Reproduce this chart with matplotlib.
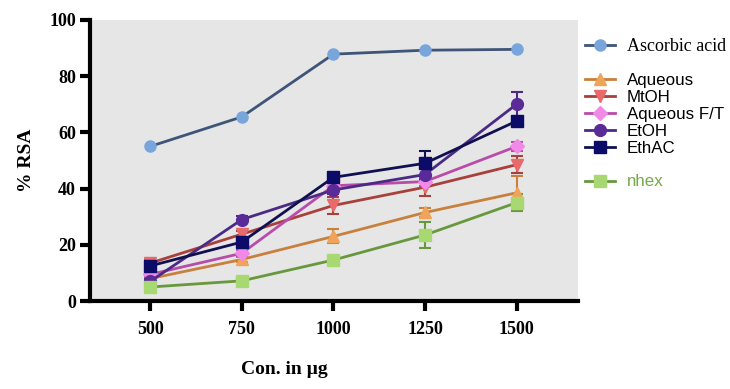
import numpy as np
import matplotlib.pyplot as plt
from matplotlib.lines import Line2D

conc = [500, 750, 1000, 1250, 1500]

ascorbic = [55.0, 65.5, 87.8, 89.2, 89.5]
aqueous = [8.0, 14.8, 23.0, 31.5, 38.5]
mtoh = [13.5, 23.8, 34.0, 40.5, 48.5]
aqueous_ft = [9.5, 17.0, 41.0, 42.5, 55.0]
etoh = [7.0, 29.0, 39.5, 45.0, 70.0]
ethac = [12.5, 21.0, 44.0, 49.0, 64.0]
nhex = [5.0, 7.2, 14.6, 23.5, 35.0]

aqueous_err = [0.8, 1.0, 2.5, 1.5, 6.0]
mtoh_err = [1.0, 1.2, 3.0, 3.0, 3.0]
aqueous_ft_err = [0.8, 1.0, 1.0, 1.5, 1.5]
etoh_err = [0.8, 1.2, 1.5, 2.0, 4.5]
ethac_err = [0.8, 1.5, 1.0, 4.5, 1.5]
nhex_err = [0.8, 0.8, 0.8, 4.5, 3.0]

# name, values, errors, marker, marker colour, line colour
series = [
    ("Aqueous", aqueous, aqueous_err, "^", "#f0a45a", "#c8803c"),
    ("MtOH", mtoh, mtoh_err, "v", "#e86a6a", "#a8403c"),
    ("Aqueous F/T", aqueous_ft, aqueous_ft_err, "D", "#f08ae6", "#b84ca8"),
    ("EtOH", etoh, etoh_err, "o", "#5a2a98", "#4a2a84"),
    ("EthAC", ethac, ethac_err, "s", "#0c0c68", "#101050"),
    ("nhex", nhex, nhex_err, "s", "#a8d872", "#68983e"),
]

fig = plt.figure(figsize=(7.3, 3.89), dpi=100)
ax = fig.add_axes([0.123, 0.226, 0.669, 0.723])
ax.set_facecolor("#e6e6e6")

ax.plot(conc, ascorbic, marker="o", color="#3e5478", mfc="#78a6dc", mec="#78a6dc",
        ms=8, lw=2, zorder=3)
for name, vals, err, mk, mc, lc in series:
    ms = 7 if mk == "D" else 8.5
    ax.errorbar(conc, vals, yerr=err, marker=mk, color=lc, mfc=mc, mec=mc, ms=ms,
                lw=2, ecolor=lc, elinewidth=1.5, capsize=4, capthick=1.5, zorder=3)

ax.set_xlim(335, 1668)
ax.set_ylim(0, 100)
ax.set_xticks(conc)
ax.set_yticks([0, 20, 40, 60, 80, 100])
for s in ["top", "right"]:
    ax.spines[s].set_visible(False)
for s in ["left", "bottom"]:
    ax.spines[s].set_linewidth(3)
ax.tick_params(direction="out", length=7, width=3, pad=3)
for lab in ax.get_xticklabels() + ax.get_yticklabels():
    lab.set_fontfamily("Liberation Serif")
    lab.set_fontweight("bold")
    lab.set_fontsize(13)
ax.tick_params(axis="x", pad=7)

ax.set_ylabel("% RSA", fontfamily="Liberation Serif", fontweight="bold", fontsize=14, labelpad=10)
fig.text(0.39, 0.05, "Con. in µg", ha="center", va="center",
         fontfamily="Liberation Serif", fontweight="bold", fontsize=14)

# legend with blank rows between groups
handles = [Line2D([], [], color="#3e5478", marker="o", mfc="#78a6dc", mec="#78a6dc", ms=8, lw=2),
           Line2D([], [], color="none")]
labels = ["Ascorbic acid", ""]
for name, vals, err, mk, mc, lc in series:
    if name == "nhex":
        handles.append(Line2D([], [], color="none"))
        labels.append("")
    handles.append(Line2D([], [], color=lc, marker=mk, mfc=mc, mec=mc,
                          ms=7 if mk == "D" else 8.5, lw=2))
    labels.append(name)

leg = ax.legend(handles, labels, loc="upper left", bbox_to_anchor=(1.015, 0.937),
                frameon=False, borderpad=0, borderaxespad=0, handlelength=1.75,
                handletextpad=0.7, labelspacing=0.11,
                prop={"family": "Liberation Sans", "size": 12.2})
for t in leg.get_texts():
    if t.get_text() == "Ascorbic acid":
        t.set_fontfamily("Liberation Serif")
        t.set_fontsize(13)
    if t.get_text() == "nhex":
        t.set_color("#78a848")

fig.savefig("out.png", dpi=100)
